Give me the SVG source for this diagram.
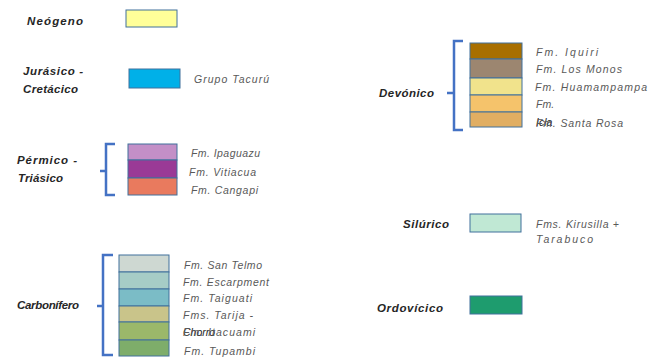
<svg xmlns="http://www.w3.org/2000/svg" width="648" height="359" viewBox="0 0 648 359">
<style>
.h{font-family:"Liberation Sans",Arial,sans-serif;font-size:11.5px;font-weight:bold;font-style:italic;fill:#262626}
.l{font-family:"Liberation Sans",Arial,sans-serif;font-size:10.5px;font-style:italic;fill:#595959}
.b{stroke:#41719C;stroke-width:1}
.br{fill:none;stroke:#4472C4;stroke-width:2.5}
</style>
<rect width="648" height="359" fill="#ffffff"/>
<g id="neogeno">
<text class="h" x="27" y="25" textLength="56" lengthAdjust="spacing">Neógeno</text>
<rect class="b" x="126" y="10" width="51" height="17" fill="#FFFF99"/>
</g>
<g id="jurasico-cretacico">
<text class="h" x="23" y="75" textLength="60" lengthAdjust="spacing">Jurásico  -</text>
<text class="h" x="23" y="93" textLength="55" lengthAdjust="spacing">Cretácico</text>
<rect class="b" x="129" y="69" width="51" height="19" fill="#00B0E8"/>
<text class="l" x="194" y="83" textLength="75" lengthAdjust="spacing">Grupo Tacurú</text>
</g>
<g id="permico-triasico">
<text class="h" x="17" y="164" textLength="60" lengthAdjust="spacing">Pérmico  -</text>
<text class="h" x="18" y="182" textLength="45" lengthAdjust="spacing">Triásico</text>
<rect class="b" x="128" y="144" width="49" height="16" fill="#C38FC7"/>
<rect class="b" x="128" y="160" width="49" height="18" fill="#9A3A96"/>
<rect class="b" x="128" y="178" width="49" height="17" fill="#E97A5E"/>
<text class="l" x="191" y="157" textLength="69" lengthAdjust="spacing">Fm. Ipaguazu</text>
<text class="l" x="189" y="176" textLength="67" lengthAdjust="spacing">Fm. Vitiacua</text>
<text class="l" x="191" y="194" textLength="67" lengthAdjust="spacing">Fm. Cangapi</text>
</g>
<g id="carbonifero">
<text class="h" x="17" y="309" textLength="62" lengthAdjust="spacing">Carbonífero</text>
<rect class="b" x="119" y="255" width="50" height="17" fill="#CED8D2"/>
<rect class="b" x="119" y="272" width="50" height="17" fill="#A6CCC6"/>
<rect class="b" x="119" y="289" width="50" height="17" fill="#7BBCC6"/>
<rect class="b" x="119" y="306" width="50" height="16" fill="#C9C48A"/>
<rect class="b" x="119" y="322" width="50" height="18" fill="#9BB86A"/>
<rect class="b" x="119" y="340" width="50" height="16" fill="#7EAD6A"/>
<text class="l" x="184" y="269" textLength="78" lengthAdjust="spacing">Fm. San Telmo</text>
<text class="l" x="183" y="286" textLength="86" lengthAdjust="spacing">Fm. Escarpment</text>
<text class="l" x="183" y="302" textLength="69" lengthAdjust="spacing">Fm. Taiguati</text>
<text class="l" x="183" y="319" textLength="70" lengthAdjust="spacing">Fms. Tarija -</text>
<text class="l" x="183" y="336" textLength="32" lengthAdjust="spacing" style="fill:#262626">Chorro</text>
<text class="l" x="183" y="336" textLength="72" lengthAdjust="spacing">Fm. Itacuami</text>
<text class="l" x="184" y="355" textLength="71" lengthAdjust="spacing">Fm. Tupambi</text>
</g>
<g id="devonico">
<text class="h" x="379" y="97" textLength="55" lengthAdjust="spacing">Devónico</text>
<rect class="b" x="470" y="43" width="52" height="16" fill="#A86F00"/>
<rect class="b" x="470" y="59" width="52" height="19" fill="#9C8670"/>
<rect class="b" x="470" y="78" width="52" height="17" fill="#F1E38C"/>
<rect class="b" x="470" y="95" width="52" height="17" fill="#F5C36B"/>
<rect class="b" x="470" y="112" width="52" height="15" fill="#E1AE62"/>
<text class="l" x="536" y="56" textLength="62" lengthAdjust="spacing">Fm. Iquiri</text>
<text class="l" x="536" y="73" textLength="86" lengthAdjust="spacing">Fm. Los Monos</text>
<text class="l" x="535" y="91" textLength="112" lengthAdjust="spacing">Fm. Huamampampa</text>
<text class="l" x="536" y="108">Fm.</text>
<text class="l" x="536" y="126" style="fill:#262626">Icla</text>
<text class="l" x="536" y="127" textLength="87" lengthAdjust="spacing">Fm. Santa Rosa</text>
</g>
<g id="silurico">
<text class="h" x="403" y="228" textLength="46" lengthAdjust="spacing">Silúrico</text>
<rect class="b" x="470" y="214" width="51" height="18" fill="#C0E8D4"/>
<text class="l" x="536" y="228" textLength="83" lengthAdjust="spacing">Fms. Kirusilla +</text>
<text class="l" x="536" y="243" textLength="57" lengthAdjust="spacing">Tarabuco</text>
</g>
<g id="ordovicico">
<text class="h" x="377" y="312" textLength="66" lengthAdjust="spacing">Ordovícico</text>
<rect class="b" x="470" y="296" width="52" height="18" fill="#1E9C6E"/>
</g>
<g id="connectors">
<path class="br" d="M115,144 H106 V195 H115 M106,171 H100"/>
<path class="br" d="M113,255 H103 V355 H113 M103,306 H97"/>
<path class="br" d="M463,41 H454 V130 H463 M454,93 H447"/>
</g>
</svg>
